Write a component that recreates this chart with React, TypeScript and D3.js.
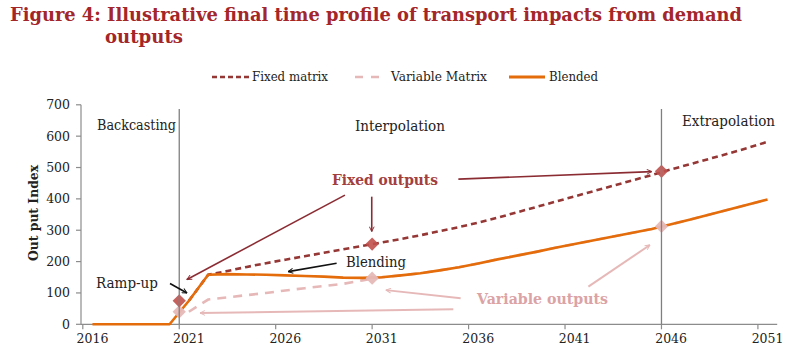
import React from "react";
import * as d3 from "d3";

// ---------- DATA ----------
const years: number[] = [
  2016, 2017, 2018, 2019, 2020, 2021, 2022, 2023, 2024, 2025, 2026, 2027,
  2028, 2029, 2030, 2031, 2032, 2033, 2034, 2035, 2036, 2037, 2038, 2039,
  2040, 2041, 2042, 2043, 2044, 2045, 2046, 2047, 2048, 2049, 2050, 2051,
];
const tickYears: number[] = [2016, 2021, 2026, 2031, 2036, 2041, 2046, 2051];
const yTicks: number[] = [0, 100, 200, 300, 400, 500, 600, 700];

const blended: (number | null)[] = [
  0, 0, 0, 0, 0, 75, 158, 160, 159, 158, 156, 154,
  152, 149, 148, 150, 156, 163, 172, 182, 194, 207, 219, 231,
  244, 256, 268, 280, 292, 304, 319, 334, 350, 366, 382, 398,
];
const fixedMatrix: (number | null)[] = [
  null, null, null, null, null, 75, 158, 170, 183, 195, 206, 217,
  228, 239, 250, 261, 272, 284, 297, 310, 324, 340, 357, 374,
  391, 408, 425, 442, 459, 476, 494, 511, 528, 545, 563, 582,
];
const variableMatrix: (number | null)[] = [
  null, null, null, null, null, 40, 79, 86, 93, 100, 108, 115,
  122, 129, 140, 150, 156, 163, 172, 182, 194, 207, 219, 231,
  244, 256, 268, 280, 292, 304, 319, 334, 350, 366, 382, 398,
];

// diamonds sit on the period boundaries
const fixedMarkerYears = [2021, 2031, 2046];
const fixedMarkerValues = [75, 256, 488];
const variableMarkerYears = [2021, 2031, 2046];
const variableMarkerValues = [40, 147, 312];

const boundaryYears = [2021, 2046];

const legendLabels = ["Fixed matrix", "Variable Matrix", "Blended"];
const titleLines = [
  "Figure 4: Illustrative final time profile of transport impacts from demand",
  "outputs",
];

// arrows in data space: [year, value] -> [year, value]
const fixedArrows = [
  { from: [2029.59, 412], to: [2021.4, 143] },
  { from: [2030.98, 407], to: [2030.98, 296] },
  { from: [2035.47, 463], to: [2045.49, 487] },
];
const blackArrows = [
  { from: [2029.16, 194.5], to: [2026.65, 168] },
  { from: [2020.52, 130], to: [2021.4, 100] },
];
const variableArrows = [
  { from: [2035.59, 83], to: [2031.72, 109] },
  { from: [2035.21, 48], to: [2022.08, 36] },
  { from: [2042.21, 120], to: [2045.4, 253] },
];

// ---------- STYLE ----------
const C_FIXED = "#953735";
const C_VAR = "#E6B9B8";
const C_BLEND = "#E46C0A";
const C_FIXED_MARK = "#C0504D";
const C_TITLE = "#A3262A";
const C_AXIS = "#8C8C8C";
const FONT = "'DejaVu Serif', serif";

const W = 799;
const H = 360;
const X0 = 82.8;
const X1 = 777.2;
const Y0 = 324.3;
const Y1 = 104.8;

export default function App() {
  const xBand = d3
    .scaleBand<number>()
    .domain(years)
    .range([X0, X1])
    .paddingInner(0)
    .paddingOuter(0);
  const bw = xBand.bandwidth();
  const xCenter = (yr: number) => (xBand(yr) as number) + bw / 2;
  // continuous helper for annotation arrows (band starts)
  const xLin = d3.scaleLinear().domain([2016, 2052]).range([X0, X1]);
  const y = d3.scaleLinear().domain([0, 700]).range([Y0, Y1]);

  const mkLine = (vals: (number | null)[]) =>
    d3
      .line<number>()
      .defined((_, i) => vals[i] !== null)
      .x((yr) => xCenter(yr))
      .y((_, i) => y(vals[i] as number))(years) as string;

  const diamond = d3.symbol().type(d3.symbolSquare).size(88)() as string;

  const arrowLine = (
    a: { from: number[]; to: number[] },
    color: string,
    width: number,
    marker: string,
    key: string
  ) => (
    <line
      key={key}
      x1={xLin(a.from[0])}
      y1={y(a.from[1])}
      x2={xLin(a.to[0])}
      y2={y(a.to[1])}
      stroke={color}
      strokeWidth={width}
      markerEnd={`url(#${marker})`}
    />
  );

  return (
    <svg
      width={W}
      height={H}
      viewBox={`0 0 ${W} ${H}`}
      style={{ position: "absolute", left: 0, top: 0, background: "#fff" }}
    >
      <defs>
        {[
          ["arFixed", "#8B2C33"],
          ["arBlack", "#111"],
          ["arVar", C_VAR],
        ].map(([id, c]) => (
          <marker
            key={id}
            id={id}
            viewBox="0 0 10 10"
            refX="9"
            refY="5"
            markerWidth="6"
            markerHeight="6"
            markerUnits="userSpaceOnUse"
            orient="auto"
          >
            <path d="M1,1 L9,5 L1,9" fill="none" stroke={c} strokeWidth="1.6" />
          </marker>
        ))}
      </defs>

      {/* Title */}
      <g fill={C_TITLE} fontFamily={FONT} fontWeight="bold" fontSize={18}>
        <text x={10} y={21} textLength={732} lengthAdjust="spacingAndGlyphs">
          {titleLines[0]}
        </text>
        <text x={105} y={43} textLength={78} lengthAdjust="spacingAndGlyphs">
          {titleLines[1]}
        </text>
      </g>

      {/* Legend */}
      <g fontFamily={FONT} fontSize={12} fill="#222">
        <line x1={212} x2={249} y1={77} y2={77} stroke={C_FIXED} strokeWidth={2.6} strokeDasharray="5,3" />
        <text x={252} y={81} textLength={76} lengthAdjust="spacingAndGlyphs">{legendLabels[0]}</text>
        <line x1={355} x2={381} y1={77} y2={77} stroke={C_VAR} strokeWidth={2.6} strokeDasharray="8,8" />
        <text x={391} y={81} textLength={96} lengthAdjust="spacingAndGlyphs">{legendLabels[1]}</text>
        <line x1={509} x2={545} y1={77} y2={77} stroke={C_BLEND} strokeWidth={2.8} />
        <text x={549} y={81} textLength={49} lengthAdjust="spacingAndGlyphs">{legendLabels[2]}</text>
      </g>

      {/* Y axis */}
      <g fontFamily={FONT} fontSize={12.5} fill="#222">
        <line x1={81} x2={81} y1={Y1} y2={Y0} stroke={C_AXIS} strokeWidth={1.2} />
        {yTicks.map((t) => (
          <g key={t}>
            <line x1={76} x2={81} y1={y(t)} y2={y(t)} stroke={C_AXIS} strokeWidth={1.2} />
            <text x={70} y={y(t)} dy="0.35em" textAnchor="end">
              {t}
            </text>
          </g>
        ))}
        <text
          transform={`translate(38,213) rotate(-90)`}
          textAnchor="middle"
          fontWeight="bold"
          fontSize={13}
          textLength={96}
          lengthAdjust="spacingAndGlyphs"
        >
          Out put Index
        </text>
      </g>

      {/* X axis */}
      <g fontFamily={FONT} fontSize={12.5} fill="#222">
        <line x1={81} x2={X1} y1={Y0} y2={Y0} stroke={C_AXIS} strokeWidth={1.2} />
        {tickYears.map((t) => (
          <g key={t}>
            <line
              x1={xBand(t) as number}
              x2={xBand(t) as number}
              y1={Y0}
              y2={Y0 + 5}
              stroke={C_AXIS}
              strokeWidth={1.2}
            />
            <text x={xCenter(t)} y={343} textAnchor="middle">
              {t}
            </text>
          </g>
        ))}
      </g>

      {/* Region labels */}
      <g fontFamily={FONT} fontSize={14} fill="#222">
        <text x={97} y={130} textLength={79} lengthAdjust="spacingAndGlyphs">Backcasting</text>
        <text x={355} y={130.5} textLength={90} lengthAdjust="spacingAndGlyphs">Interpolation</text>
        <text x={682} y={126} textLength={93} lengthAdjust="spacingAndGlyphs">Extrapolation</text>
        <text x={346} y={266.5} textLength={60} lengthAdjust="spacingAndGlyphs">Blending</text>
        <text x={96} y={287.5} textLength={62} lengthAdjust="spacingAndGlyphs">Ramp-up</text>
      </g>
      <text x={332} y={185} fontFamily={FONT} fontSize={14} fontWeight="bold" fill="#A2403F" textLength={106} lengthAdjust="spacingAndGlyphs">
        Fixed outputs
      </text>
      <text x={477} y={303.5} fontFamily={FONT} fontSize={14} fontWeight="bold" fill="#DBA3A5" textLength={131} lengthAdjust="spacingAndGlyphs">
        Variable outputs
      </text>

      {/* Series */}
      <path d={mkLine(variableMatrix)} fill="none" stroke={C_VAR} strokeWidth={2.6} strokeDasharray="9,7" />
      <path d={mkLine(fixedMatrix)} fill="none" stroke={C_FIXED} strokeWidth={2.6} strokeDasharray="6,4" />
      <path d={mkLine(blended)} fill="none" stroke={C_BLEND} strokeWidth={2.6} strokeLinejoin="round" />

      {/* Diamonds */}
      {variableMarkerYears.map((yr, i) => (
        <path
          key={"v" + yr}
          d={diamond}
          fill={C_VAR}
          opacity={0.95}
          transform={`translate(${xBand(yr)},${y(variableMarkerValues[i])}) rotate(45)`}
        />
      ))}
      {fixedMarkerYears.map((yr, i) => (
        <path
          key={"f" + yr}
          d={diamond}
          fill={C_FIXED_MARK}
          opacity={0.9}
          transform={`translate(${xBand(yr)},${y(fixedMarkerValues[i])}) rotate(45)`}
        />
      ))}

      {/* Boundary lines */}
      {boundaryYears.map((yr) => (
        <line
          key={yr}
          x1={xBand(yr) as number}
          x2={xBand(yr) as number}
          y1={109}
          y2={Y0}
          stroke="#7F7F7F"
          strokeWidth={1.3}
        />
      ))}

      {/* Arrows */}
      {fixedArrows.map((a, i) => arrowLine(a, "#8B2C33", 1.6, "arFixed", "fa" + i))}
      {blackArrows.map((a, i) => arrowLine(a, "#111", 1.6, "arBlack", "ba" + i))}
      {variableArrows.map((a, i) => arrowLine(a, C_VAR, 2, "arVar", "va" + i))}
    </svg>
  );
}
